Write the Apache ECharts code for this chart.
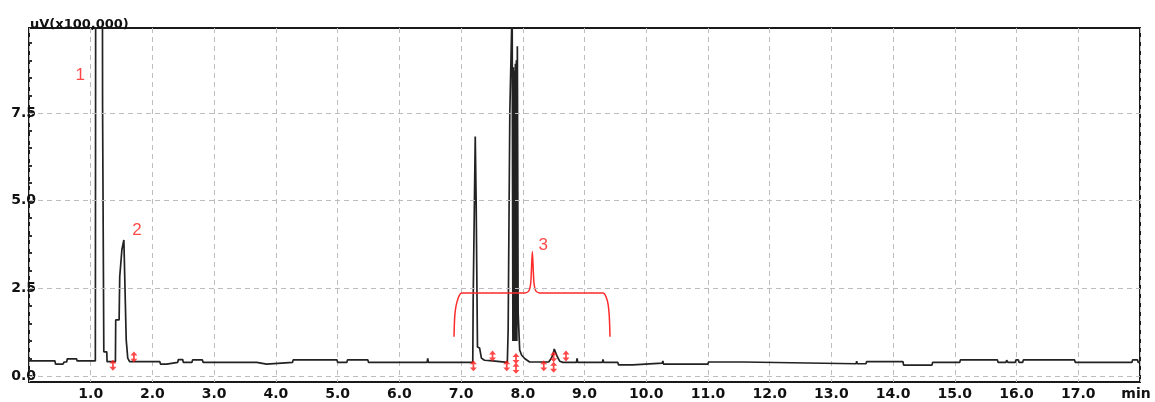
<!DOCTYPE html>
<html>
<head>
<meta charset="utf-8">
<script src="https://cdn.jsdelivr.net/npm/echarts@6.0.0/dist/echarts.min.js"></script>
<style>
	html, body { margin: 0; padding: 0; background: #fff; }
	#chart { width: 1155px; height: 402px; }
</style>
</head>
<body>
<div id="chart"></div>
<script>
// chromatogram trace (min, uV x100,000)
var traceTime = [0.00, 0.42, 0.43, 0.55, 0.57, 0.61, 0.62, 0.77, 0.78, 1.075,
	1.08, 1.19, 1.192, 1.21, 1.212, 1.26, 1.265, 1.40, 1.405, 1.46,
	1.47, 1.50, 1.505, 1.535, 1.537, 1.567, 1.575, 1.595, 1.60, 1.63,
	2.12, 2.13, 2.23, 2.24, 2.41, 2.42, 2.49, 2.50, 2.64, 2.65,
	2.81, 2.82, 3.69, 3.70, 3.85, 3.86, 4.27, 4.28, 4.99, 5.00,
	5.15, 5.16, 5.49, 5.50, 6.45, 6.46, 6.47, 7.19, 7.196, 7.225,
	7.23, 7.24, 7.245, 7.262, 7.266, 7.30, 7.33, 7.38, 7.47, 7.50,
	7.75, 7.763, 7.785, 7.79, 7.822, 7.828, 7.835, 7.84, 7.848, 7.856,
	7.864, 7.872, 7.88, 7.888, 7.896, 7.904, 7.912, 7.92, 7.925, 7.945,
	7.95, 7.98, 8.03, 8.11, 8.42, 8.46, 8.49, 8.51, 8.54, 8.56,
	8.60, 8.65, 8.87, 8.88, 8.89, 9.29, 9.30, 9.31, 9.54, 9.55,
	9.78, 9.79, 10.26, 10.27, 10.28, 11.00, 11.01, 11.57, 11.58, 13.40,
	13.41, 13.42, 13.56, 13.57, 14.16, 14.17, 14.63, 14.64, 15.08, 15.09,
	15.69, 15.70, 15.83, 15.84, 15.86, 15.98, 15.99, 16.03, 16.04, 16.10,
	16.11, 16.94, 16.95, 17.87, 17.88, 17.96, 17.97, 18.00];
var traceValue = [0.43, 0.43, 0.34, 0.34, 0.40, 0.40, 0.49, 0.49, 0.43, 0.43,
	10.6, 10.6, 7.70, 7.70, 0.69, 0.69, 0.41, 0.41, 1.60, 1.60,
	2.83, 2.83, 3.60, 3.60, 3.88, 3.88, 1.03, 1.03, 0.51, 0.41,
	0.41, 0.34, 0.34, 0.39, 0.39, 0.47, 0.47, 0.39, 0.39, 0.46,
	0.46, 0.39, 0.39, 0.34, 0.34, 0.39, 0.39, 0.46, 0.46, 0.39,
	0.39, 0.46, 0.46, 0.39, 0.39, 0.50, 0.39, 0.39, 2.12, 2.12,
	6.83, 6.83, 4.89, 4.89, 0.83, 0.80, 0.51, 0.45, 0.44, 0.39,
	0.39, 1.31, 1.31, 7.50, 7.50, 10.6, 10.6, 1.00, 8.80, 1.00,
	8.70, 1.00, 8.90, 1.00, 9.00, 1.00, 9.40, 9.40, 1.80, 1.80,
	0.74, 0.60, 0.50, 0.40, 0.40, 0.50, 0.62, 0.77, 0.77, 0.55,
	0.42, 0.39, 0.39, 0.50, 0.39, 0.39, 0.47, 0.39, 0.39, 0.32,
	0.32, 0.37, 0.37, 0.43, 0.34, 0.34, 0.40, 0.40, 0.35, 0.35,
	0.42, 0.35, 0.35, 0.41, 0.41, 0.31, 0.31, 0.39, 0.39, 0.46,
	0.46, 0.39, 0.39, 0.45, 0.39, 0.39, 0.46, 0.46, 0.39, 0.39,
	0.46, 0.46, 0.39, 0.39, 0.46, 0.46, 0.39, 0.39];

// integration marks (red arrows)
var markTime = [1.36, 1.70, 7.20, 7.51, 7.74, 7.89, 7.89, 8.34, 8.50, 8.50, 8.70];
var markValue = [0.31, 0.54, 0.29, 0.57, 0.29, 0.50, 0.22, 0.29, 0.55, 0.25, 0.57];

// peak numbers
var peakNames = ['1', '2', '3'];
var peakNameTime = [0.83, 1.75, 8.33];
var peakNameValue = [8.58, 4.16, 3.74];

// bracket around group 3
var braceTime = [6.886, 6.90, 6.94, 7.01, 8.04, 8.10, 8.13, 8.155, 8.18, 8.21, 8.27, 9.30, 9.37, 9.40, 9.413];
var braceValue = [1.12, 1.75, 2.15, 2.37, 2.37, 2.43, 2.68, 3.55, 2.68, 2.43, 2.37, 2.37, 2.15, 1.75, 1.12];

// axes
var yLabelValues = [0, 2.5, 5, 7.5];
var yMinorTicks = [0, 0.5, 1, 1.5, 2, 2.5, 3, 3.5, 4, 4.5, 5, 5.5, 6, 6.5, 7, 7.5, 8, 8.5, 9, 9.5];

function pairs(xs, ys) {
	var out = [];
	for (var i = 0; i < xs.length; i++) out.push([xs[i], ys[i]]);
	return out;
}

var dom = document.getElementById('chart');
var myChart = echarts.init(dom, null, { renderer: 'canvas' });
var labelFont = { fontFamily: 'DejaVu Sans', fontWeight: 'bold', fontSize: 14, color: '#111' };

var option = {
	animation: false,
	backgroundColor: '#fff',
	title: {
		text: 'uV(x100,000)',
		left: 25,
		top: 13,
		textStyle: { fontFamily: 'DejaVu Sans', fontWeight: 'bold', fontSize: 13, color: '#111' }
	},
	grid: {
		left: 29,
		right: 15,
		top: 28,
		bottom: 20,
		show: true,
		borderColor: '#1a1a1a',
		borderWidth: 2
	},
	xAxis: {
		type: 'value',
		min: 0,
		max: 18,
		interval: 1,
		axisLine: { show: false },
		axisTick: { show: false },
		splitLine: { show: true, lineStyle: { color: '#bdbdbd', type: [5, 4], width: 1 } },
		axisLabel: {
			margin: 5,
			fontFamily: labelFont.fontFamily,
			fontWeight: labelFont.fontWeight,
			fontSize: labelFont.fontSize,
			color: labelFont.color,
			formatter: function(v) {
				if (v === 0) return '';
				if (v === 18) return '{u|min}';
				return v.toFixed(1);
			},
			rich: { u: { fontFamily: 'DejaVu Sans', fontWeight: 'bold', fontSize: 14, color: '#111', padding: [0, 8, 0, 0] } }
		}
	},
	yAxis: {
		type: 'value',
		min: -0.17,
		max: 9.92,
		axisLine: { show: false },
		splitLine: { show: false },
		axisTick: {
			show: true,
			inside: true,
			length: 3,
			customValues: yMinorTicks,
			lineStyle: { color: '#333', width: 2 }
		},
		axisLabel: {
			margin: -7,
			customValues: yLabelValues,
			fontFamily: labelFont.fontFamily,
			fontWeight: labelFont.fontWeight,
			fontSize: labelFont.fontSize,
			color: labelFont.color,
			formatter: function(v) { return v.toFixed(1); }
		}
	},
	series: [{
		// horizontal dashed grid
		type: 'line',
		data: [],
		z: 1,
		silent: true,
		markLine: {
			silent: true,
			symbol: 'none',
			label: { show: false },
			lineStyle: { color: '#bdbdbd', type: [5, 4], width: 1 },
			data: yLabelValues.map(function(v) { return { yAxis: v }; })
		}
	}, {
		name: 'signal',
		type: 'line',
		z: 3,
		symbol: 'none',
		clip: true,
		lineStyle: { color: '#222', width: 1.7 },
		data: pairs(traceTime, traceValue)
	}, {
		name: 'brace',
		type: 'line',
		z: 4,
		symbol: 'none',
		smooth: 0.25,
		lineStyle: { color: '#ff2a2a', width: 1.5 },
		data: pairs(braceTime, braceValue)
	}, {
		name: 'marks',
		type: 'scatter',
		z: 5,
		symbol: 'path://M5,0 L9,5 L6,5 L6,9 L9,9 L5,14 L1,9 L4,9 L4,5 L1,5 Z',
		symbolSize: [7, 11],
		itemStyle: { color: '#ff1a1a' },
		data: pairs(markTime, markValue)
	}, {
		name: 'peaks',
		type: 'scatter',
		z: 5,
		symbolSize: 0,
		label: {
			show: true,
			position: 'inside',
			fontFamily: 'Liberation Sans',
			fontSize: 17,
			color: '#ff1a1a',
			formatter: function(p) { return peakNames[p.dataIndex]; }
		},
		data: pairs(peakNameTime, peakNameValue)
	}]
};

if (option && typeof option === 'object') {
	myChart.setOption(option, true);
}
</script>
</body>
</html>
